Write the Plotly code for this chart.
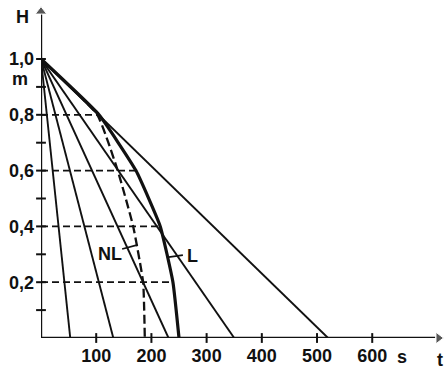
import plotly.graph_objects as go

# ---- data ----
end_times = [53, 131, 231, 350, 520]          # straight lines from (0, 1.0) to (T, 0)
levels = [0.8, 0.6, 0.4, 0.2]                 # horizontal dashed guide levels
L_H = [1.0, 0.8, 0.6, 0.4, 0.2, 0.0]
L_t = [0, 105, 172, 216, 239, 250]
NL_H = [1.0, 0.8, 0.6, 0.4, 0.2, 0.0]
NL_t = [0, 102, 139, 167, 185, 188]
x_ticks = [100, 200, 300, 400, 500, 600]
x_ticklabels = ["100", "200", "300", "400", "500", "600"]
y_ticks = [0.2, 0.4, 0.6, 0.8, 1.0]
y_ticklabels = ["0,2", "0,4", "0,6", "0,8", "1,0"]
y_minor = [0.1, 0.2, 0.3, 0.4, 0.5, 0.6, 0.7, 0.8, 0.9, 1.0]
curve_labels = ["NL", "L"]
curve_label_t = [125, 274]
curve_label_H = [0.300, 0.294]
# unit / axis-name labels: (text, x px, y px) in the figure
axis_texts = ["m", "H", "s", "t"]
axis_text_px = [(20, 79), (22, 17), (402, 357), (440, 360)]

X_MAX = 730
Y_MAX = 1.2115
INK = "#111111"
FONT = "Liberation Sans"
W, H = 444, 370
ML, MB = 41, 32

fig = go.Figure()

# straight lines
for T in end_times:
    fig.add_trace(go.Scatter(x=[0, T], y=[1.0, 0.0], mode="lines",
                             line=dict(color=INK, width=1.9), hoverinfo="skip"))

# dashed horizontal guides to the L curve
for h in levels:
    t = L_t[L_H.index(h)]
    fig.add_trace(go.Scatter(x=[0, t], y=[h, h], mode="lines",
                             line=dict(color=INK, width=1.7, dash="7px,4px"), hoverinfo="skip"))

# NL curve (dashed)
fig.add_trace(go.Scatter(x=NL_t, y=NL_H, mode="lines",
                         line=dict(color=INK, width=2.3, dash="9px,4px", shape="spline", smoothing=0.4),
                         hoverinfo="skip"))
# L curve (thick)
fig.add_trace(go.Scatter(x=L_t, y=L_H, mode="lines",
                         line=dict(color=INK, width=3.2, shape="spline", smoothing=0.4),
                         hoverinfo="skip"))

# leader lines for labels
fig.add_trace(go.Scatter(x=[147, 175], y=[0.319, 0.334], mode="lines",
                         line=dict(color=INK, width=1.7), hoverinfo="skip"))
fig.add_trace(go.Scatter(x=[228, 257], y=[0.289, 0.297], mode="lines",
                         line=dict(color=INK, width=1.7), hoverinfo="skip"))

# axis tick crosses
fig.add_trace(go.Scatter(x=[0] * len(y_minor), y=y_minor, mode="markers",
                         marker=dict(symbol="line-ew", size=7, line=dict(color=INK, width=2)),
                         cliponaxis=False, hoverinfo="skip"))
fig.add_trace(go.Scatter(x=x_ticks, y=[0] * len(x_ticks), mode="markers",
                         marker=dict(symbol="line-ns", size=7, line=dict(color=INK, width=2)),
                         cliponaxis=False, hoverinfo="skip"))

# axis lines with arrows
fig.add_trace(go.Scatter(x=[0, 0], y=[-0.015, 1.16], mode="lines",
                         line=dict(color=INK, width=2.4), cliponaxis=False, hoverinfo="skip"))
fig.add_trace(go.Scatter(x=[-5, 714], y=[0, 0], mode="lines",
                         line=dict(color=INK, width=2.4), cliponaxis=False, hoverinfo="skip"))
fig.add_trace(go.Scatter(x=[0], y=[1.17], mode="markers",
                         marker=dict(symbol="triangle-up", size=[10], color=INK),
                         cliponaxis=False, hoverinfo="skip"))
fig.add_trace(go.Scatter(x=[720], y=[0], mode="markers",
                         marker=dict(symbol="triangle-right", size=[10], color=INK),
                         cliponaxis=False, hoverinfo="skip"))

for txt, t, h in zip(curve_labels, curve_label_t, curve_label_H):
    fig.add_annotation(x=t, y=h, text="<b>" + txt + "</b>", showarrow=False,
                       font=dict(family=FONT, size=18, color=INK),
                       xanchor="center", yanchor="middle")

pw, ph = W - ML, H - MB
for txt, (px, py) in zip(axis_texts, axis_text_px):
    fig.add_annotation(x=(px - ML) / pw, y=(H - MB - py) / ph, xref="paper", yref="paper",
                       text="<b>" + txt + "</b>", showarrow=False,
                       font=dict(family=FONT, size=18, color=INK),
                       xanchor="center", yanchor="middle")

fig.update_layout(
    width=W, height=H,
    margin=dict(l=ML, r=0, t=0, b=MB, autoexpand=False),
    paper_bgcolor="white", plot_bgcolor="white",
    showlegend=False,
    font=dict(family=FONT, size=18, color=INK),
    xaxis=dict(range=[0, X_MAX], showgrid=False, zeroline=False, showline=False,
               tickmode="array", tickvals=x_ticks, ticktext=["<b>" + s + "</b>" for s in x_ticklabels],
               ticks="", ticklabelstandoff=5, automargin=False, fixedrange=True),
    yaxis=dict(range=[0, Y_MAX], showgrid=False, zeroline=False, showline=False,
               tickmode="array", tickvals=y_ticks, ticktext=["<b>" + s + "</b>" for s in y_ticklabels],
               ticks="", ticklabelstandoff=6, automargin=False, fixedrange=True),
)

fig.write_html("out.html", config={"displayModeBar": False},
               post_script="document.body.style.margin='0';document.body.style.padding='0';")
